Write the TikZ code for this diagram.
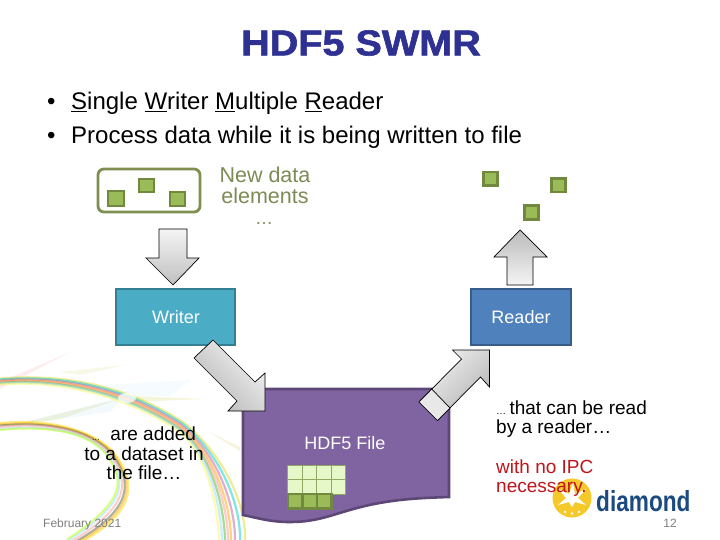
\documentclass[tikz,border=0pt]{standalone}
\usepackage{graphicx}
\usepackage{fontspec}
\setmainfont{Liberation Sans}
\newfontfamily\titlefont[FakeBold=1.6]{Liberation Sans Bold}
\usetikzlibrary{shadings}
\definecolor{titleblue}{HTML}{2E3192}
\definecolor{olive}{HTML}{7F8F4F}
\definecolor{olivetxt}{HTML}{7D8B55}
\definecolor{sqfill}{HTML}{9BBB59}
\definecolor{sqline}{HTML}{71893F}
\definecolor{wfill}{HTML}{4BACC6}
\definecolor{wline}{HTML}{357F93}
\definecolor{rfill}{HTML}{4F81BD}
\definecolor{rline}{HTML}{385D8A}
\definecolor{ffill}{HTML}{8064A2}
\definecolor{fline}{HTML}{5C4776}
\definecolor{gridfill}{HTML}{E6F8C8}
\definecolor{gridline}{HTML}{8FA862}
\definecolor{dred}{HTML}{C0141C}
\definecolor{dianavy}{HTML}{1B4A80}
\definecolor{sunyellow}{HTML}{F5C92A}
\tikzset{
  sq/.style={draw=sqline,fill=sqfill,line width=2.8pt},
  cell/.style={draw=gridline,fill=gridfill,line width=0.9pt},
  gcell/.style={draw=sqline,fill=sqfill,line width=2.4pt},
  blockarrow/.style={draw=black,line width=0.7pt,line join=miter},
  band/.style={line width=2.2pt,opacity=.5},
  bodytext/.style={font=\fontsize{24}{28}\selectfont,anchor=base west,inner sep=0pt},
  midtext/.style={font=\fontsize{19}{19.5}\selectfont,inner sep=0pt,align=center},
  boxlabel/.style={font=\fontsize{18}{20}\selectfont,text=white,inner sep=0pt}
}
\begin{document}
\begin{tikzpicture}[x=1pt,y=-1pt]
\useasboundingbox (0,0) rectangle (720,540);
\fill[white] (0,0) rectangle (720,540);
% background swooshes
\begin{scope}
\clip (0,0) rectangle (720,540);
\fill[pink!70,opacity=.4] (0,389) -- (70,352) -- (0,382) -- cycle;
\fill[yellow!50!olive!55,opacity=.35] (0,428) -- (120,399) -- (60,419) -- cycle;
\fill[cyan!25,opacity=.2] (20,424) -- (125,396) -- (110,412) -- cycle;
\fill[yellow!55!olive!45,opacity=.4] (128,396) -- (205,399) -- (130,402) -- cycle;
\fill[cyan!15,opacity=.25] (100,385) -- (190,380) -- (170,396) -- (125,396) -- cycle;
\fill[yellow!55!olive!45,opacity=.4] (207,431) -- (240,447) -- (240,451) -- cycle;
\fill[yellow!55!olive!35,opacity=.35] (60,372) -- (125,365) -- (80,375) -- cycle;
% outer band
\foreach \c/\a/\b in {yellow!75!olive/-5/14, teal!40!cyan/-3/9, violet!50!pink/-1/4, orange!70!yellow/1/0, pink!80!red/2/-3, green!35!olive/4/-6, cyan!40/5/-9, yellow!60/7/-12}{
  \draw[band,draw=\c] (0,{381+.5*\a}) .. controls (60,{376+.5*\a}) and (125,{389+\a}) .. ({180+.3*\b},{425+\a+.2*\b})
     .. controls ({218+.8*\b},{456+.3*\b}) and ({231+1.1*\b},510) .. ({231+\b},540);
}
% inner band
\foreach \c/\a/\b in {yellow!80!orange/-3/7, orange!70!yellow/-1.5/5, olive!70!black/-0.5/3, pink!80!red/1/0, cyan!40/3/-3, green!30!yellow/4/-5}{
  \draw[band,line width=2pt,draw=\c] (0,{426+\a}) .. controls (40,{422+\a}) and (85,{427+.5*\a}) .. ({108+.5*\b},{452-.3*\b})
     .. controls ({130+\b},480) and ({132+\b},{505+\b}) .. ({72+\b},{541+.3*\b});
}
\fill[white,opacity=.75] (127,398) ellipse (9 and 5);
\end{scope}

% title and bullets
\node[inner sep=0pt,text=titleblue] (title) at (361,43) {\scalebox{1.1}[1]{\fontsize{36}{40}\selectfont\titlefont HDF5 SWMR}};
\node[bodytext] (b1) at (47,110) {•};
\node[bodytext] (l1) at (71,110) {\underline{S}ingle \underline{W}riter \underline{M}ultiple \underline{R}eader};
\node[bodytext] (b2) at (47,144) {•};
\node[bodytext] (l2) at (71,144) {Process data while it is being written to file};

% new data elements
\draw[olive,line width=2.8pt,rounded corners=6pt] (98,169) rectangle (200,212);
\draw[sq] (108,191) rectangle (124,206);
\draw[sq] (139,179) rectangle (154,192);
\draw[sq] (170,192) rectangle (185,206);
\node[midtext,text=olivetxt,font=\fontsize{21.5}{21}\selectfont] (newdata) at (265,185) {New data\\elements};
\node[text=olivetxt,inner sep=0pt,font=\fontsize{18}{18}\selectfont] (dots) at (264,224) {…};

% read squares
\draw[sq] (483.5,172) rectangle (497.5,185.5);
\draw[sq] (551.5,178.5) rectangle (565.5,192);
\draw[sq] (524.5,205.5) rectangle (538.5,219.5);

% boxes
\node[draw=wline,fill=wfill,line width=2.8pt,minimum width=119pt,minimum height=56pt,inner sep=0pt] (writer) at (175.5,317) {};
\node[boxlabel] (wl) at (176,317) {Writer};
\node[draw=rline,fill=rfill,line width=2.8pt,minimum width=100pt,minimum height=56pt,inner sep=0pt] (reader) at (521,317) {};
\node[boxlabel] (rl) at (521,317) {Reader};

% file
\draw[draw=fline,fill=ffill,line width=2.6pt] (243,389) -- (449,389) -- (449,497)
  .. controls (420,498) and (395,499) .. (365,506)
  .. controls (335,513) and (320,522) .. (290,522)
  .. controls (270,522) and (258,518) .. (243,515) -- cycle;
\node[boxlabel] (fl) at (345,443.5) {HDF5 File};
\foreach \i in {0,1,2,3}\foreach \j in {0,1}{
  \draw[cell] ({287.5+\i*14.5},{465+\j*14.5}) rectangle ++(14.5,14.5);
}
\foreach \i in {0,1,2}{
  \draw[gcell] ({288+\i*14.5},494) rectangle ++(14.5,14.5);
}

% block arrows
\draw[blockarrow,top color=white!92!gray,bottom color=black!25] (159,229) -- (187,229) -- (187,258) -- (199,258) -- (173,285) -- (146,258) -- (159,258) -- cycle;
\draw[blockarrow,top color=black!27,bottom color=white!92!gray] (520,230) -- (547,257) -- (533,257) -- (533,285) -- (507,285) -- (507,257) -- (494,257) -- cycle;
\draw[blockarrow,left color=white!90!gray,right color=black!28,shading angle=-45] (213,340) -- (255,382) -- (265,373) -- (265,411) -- (228,411) -- (237,401) -- (194,358) -- cycle;
\draw[blockarrow,left color=white!90!gray,right color=black!30,shading angle=45] (419,402) -- (461.5,359) -- (452.5,350) -- (489.5,350) -- (489.5,387) -- (480.5,377) -- (437.5,420.5) -- cycle;
\fill[black!9] (419,402) -- (431.7,389) -- (450,408) -- (437.5,420.5) -- cycle;
\draw[blockarrow] (419,402) -- (431.7,389) -- (450,408) -- (437.5,420.5) -- cycle;

% logo
\fill[sunyellow] (572,498) circle (19.5);
\fill[white] (573,483) -- (575,494) -- (586,489) -- (578,498) -- (586,505) -- (575,502) -- (572,507) -- (569,502) -- (558,505) -- (566,498) -- (558,489) -- (569,494) -- cycle;
\fill[white] (565,512) circle (1.4) (572,513.5) circle (1.4) (579,512) circle (1.4);
\node[text=dianavy,inner sep=0pt,anchor=base west] (logo) at (596,511) {\scalebox{.78}[1]{\fontsize{29}{29}\selectfont\bfseries diamond}};

% captions
\node[midtext,anchor=center] (added) at (144,453.5) {{\fontsize{8}{8}\selectfont …}\ \ are added\\to a dataset in\\the file…};
\node[midtext,align=left,anchor=north west] (read) at (496,400.5) {{\fontsize{10}{9}\selectfont …\,\,}that can be read\\by a reader…};
\node[midtext,align=left,anchor=north west,text=dred] (ipc) at (496,459.5) {with no IPC\\necessary.};
\node[text=black!50,inner sep=0pt,anchor=base west,font=\fontsize{12}{14}\selectfont] (date) at (43,527) {February 2021};
\node[text=black!50,inner sep=0pt,anchor=base east,font=\fontsize{12}{14}\selectfont] (page) at (677,527) {12};
\end{tikzpicture}
\end{document}
